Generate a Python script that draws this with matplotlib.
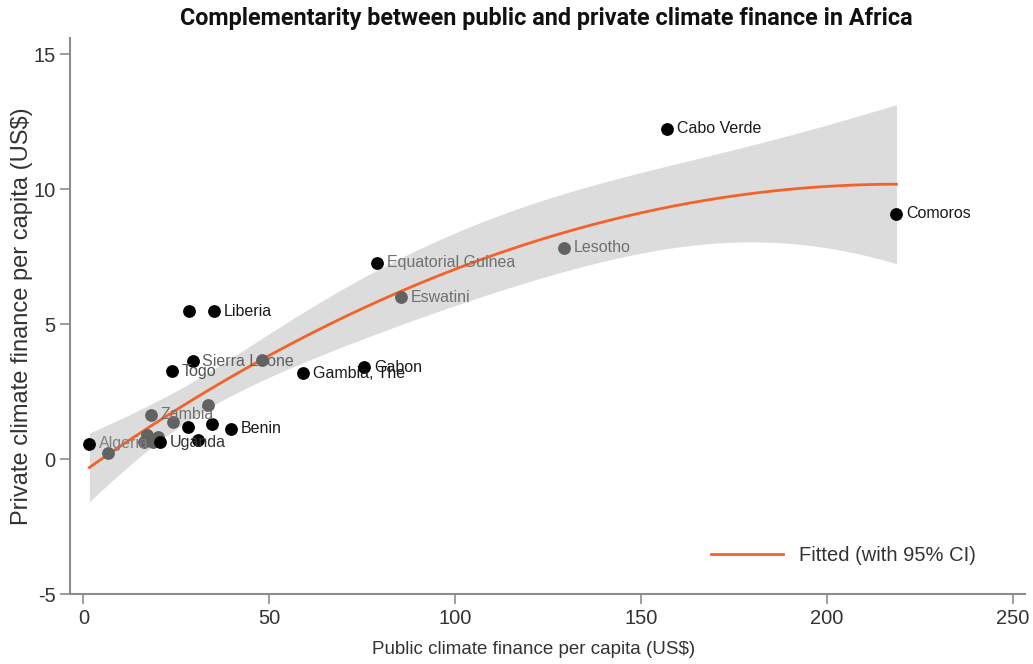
import matplotlib
matplotlib.use('Agg')
import matplotlib.pyplot as plt
import numpy as np

plt.rcParams['axes.unicode_minus'] = False

# data
pub_x = [157.0, 218.7, 129.2, 79.1, 85.4, 35.2, 28.5, 29.4, 48.1, 23.8,
         59.2, 75.6, 18.1, 24.2, 33.6, 34.5, 28.1, 39.6, 30.8, 20.6,
         1.6, 6.5, 17.1, 18.8, 16.2, 20.1]
priv_y = [12.24, 9.09, 7.82, 7.28, 6.00, 5.47, 5.47, 3.63, 3.66, 3.25,
          3.17, 3.41, 1.65, 1.37, 1.99, 1.31, 1.17, 1.12, 0.72, 0.62,
          0.57, 0.23, 0.88, 0.63, 0.63, 0.82]
labels = ["Cabo Verde", "Comoros", "Lesotho", "Equatorial Guinea", "Eswatini",
          "Liberia", "", "Sierra Leone", "", "Togo",
          "Gambia, The", "Gabon", "Zambia", "", "", "", "", "Benin", "", "Uganda",
          "Algeria", "", "", "", "", ""]
# group 1 = black markers, 0 = grey markers
group = [1, 1, 0, 1, 0, 1, 1, 1, 0, 1,
         1, 1, 0, 0, 0, 1, 1, 1, 1, 1,
         1, 0, 0, 0, 0, 0]
label_col = {"Cabo Verde": "#1a1a1a", "Comoros": "#1a1a1a", "Lesotho": "#707070",
             "Equatorial Guinea": "#707070", "Eswatini": "#707070", "Liberia": "#1a1a1a",
             "Sierra Leone": "#606060", "Togo": "#505050", "Gambia, The": "#1a1a1a",
             "Gabon": "#1a1a1a", "Zambia": "#707070", "Benin": "#1a1a1a",
             "Uganda": "#333333", "Algeria": "#808080"}

x = np.array(pub_x)
y = np.array(priv_y)
g = np.array(group)

# quadratic fit with 95% CI (like Stata qfitci)
X = np.column_stack([np.ones_like(x), x, x ** 2])
beta, res, rk, sv = np.linalg.lstsq(X, y, rcond=None)
n = len(x)
resid = y - X @ beta
s2 = resid @ resid / (n - 3)
XtXi = np.linalg.inv(X.T @ X)
xs = np.linspace(x.min(), x.max(), 200)
Xs = np.column_stack([np.ones_like(xs), xs, xs ** 2])
fit = Xs @ beta
se = np.sqrt(s2 * np.einsum('ij,jk,ik->i', Xs, XtXi, Xs))
tq = 2.069  # t(0.975, df=23)

fig = plt.figure(figsize=(10.33, 6.64), dpi=100)
ax = fig.add_axes([0.0678, 0.1054, 0.9245, 0.8374])

ax.fill_between(xs, fit - tq * se, fit + tq * se, color='#dcdcdc', lw=0, zorder=1)
ax.plot(xs, fit, color='#f4622a', lw=2, zorder=2, label='Fitted (with 95% CI)')

ax.scatter(x[g == 0], y[g == 0], s=85, color='#626262', zorder=3, lw=0)
ax.scatter(x[g == 1], y[g == 1], s=85, color='#000000', zorder=4, lw=0)

for xi, yi, lab in zip(pub_x, priv_y, labels):
    if lab:
        ax.annotate(lab, (xi, yi), xytext=(7, 0), textcoords='offset points',
                    va='center', ha='left', fontsize=11.5, color=label_col[lab],
                    family='Liberation Sans', zorder=5)

ax.set_xlim(-3.6, 253.3)
ax.set_ylim(-5, 15.6)
ax.set_xticks([0, 50, 100, 150, 200, 250])
ax.set_yticks([-5, 0, 5, 10, 15])
for s in ['top', 'right']:
    ax.spines[s].set_visible(False)
for s in ['left', 'bottom']:
    ax.spines[s].set_color('#8c8c8c')
    ax.spines[s].set_linewidth(1.5)
ax.tick_params(colors='#8c8c8c', length=7, width=1.2, labelcolor='#333333',
               labelsize=14.5)
for t in ax.get_xticklabels() + ax.get_yticklabels():
    t.set_family('Liberation Sans')

ax.set_xlabel('Public climate finance per capita (US$)', fontsize=13.5,
              family='Liberation Sans', color='#333333')
ax.xaxis.set_label_coords(0.485, -0.085)
ax.set_ylabel('Private climate finance per capita (US$)', fontsize=17,
              family='Liberation Sans', color='#333333')
ax.yaxis.set_label_coords(-0.039, 0.5)
fig.suptitle('Complementarity between public and private climate finance in Africa',
             x=0.5286, y=0.99, fontsize=16.8, fontweight='bold', family='Roboto',
             color='#111111')

leg = ax.legend(loc='lower right', frameon=False, prop={'family': 'Liberation Sans', 'size': 14.5},
                handlelength=3.6, bbox_to_anchor=(0.968, 0.02))
for t in leg.get_texts():
    t.set_color('#333333')

fig.savefig('out.png', dpi=100)
